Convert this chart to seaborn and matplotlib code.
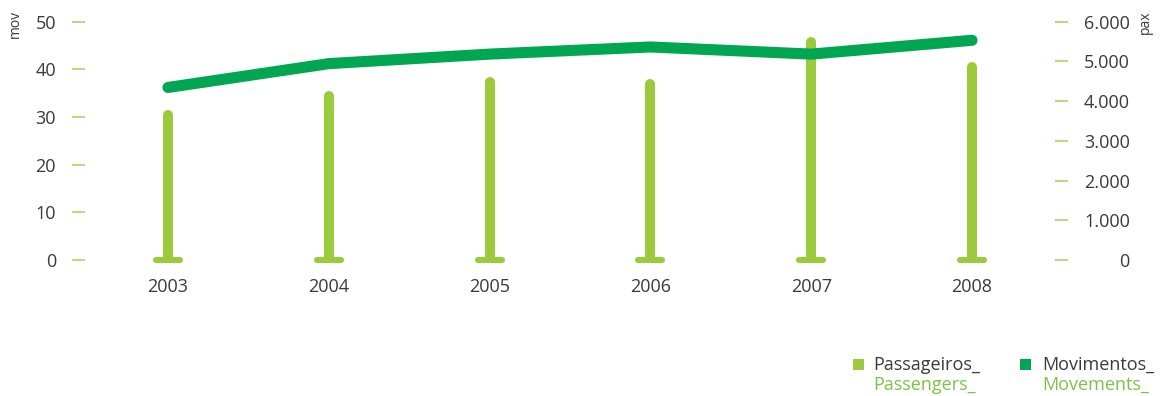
import matplotlib
matplotlib.use("Agg")
import matplotlib.pyplot as plt
from matplotlib.patches import Rectangle
from matplotlib.ticker import FuncFormatter
import pandas as pd
import seaborn as sns

# Annual series
years = [2003, 2004, 2005, 2006, 2007, 2008]
passengers = [3650, 4130, 4470, 4420, 5500, 4850]   # pax (right axis)
movements = [36.2, 41.2, 43.2, 44.7, 43.2, 46.1]    # mov (left axis)

mov_ticks = [0, 10, 20, 30, 40, 50]
pax_ticks = [0, 1000, 2000, 3000, 4000, 5000, 6000]

legend_pt = ["Passageiros_", "Movimentos_"]
legend_en = ["Passengers_", "Movements_"]

BAR_GREEN = "#9bca3c"
LINE_GREEN = "#00a651"
TICK_GREEN = "#a9d46a"
EN_GREEN = "#7cc24a"
TEXT = "#3a3a3a"

df = pd.DataFrame({"year": years, "pax": passengers, "mov": movements})

sns.set_theme(style="white")
plt.rcParams["font.family"] = ["Open Sans", "DejaVu Sans"]

fig = plt.figure(figsize=(11.6, 3.96), dpi=100)
ax = fig.add_axes([85 / 1160, 1 - 260 / 396, (1055 - 85) / 1160, (260 - 21.7) / 396])
ax2 = ax.twinx()

# passenger columns (rounded top, clipped flat at the base) with a small foot
ax2.vlines(df["year"], 0, df["pax"], color=BAR_GREEN, lw=7.2, capstyle="round",
           zorder=2)
ax2.hlines([0] * len(df), df["year"] - 0.075, df["year"] + 0.075,
           color=BAR_GREEN, lw=4.4, capstyle="round", zorder=3, clip_on=False)

# movements line, drawn above the columns
sns.lineplot(data=df, x="year", y="mov", ax=ax, color=LINE_GREEN, lw=8,
             solid_capstyle="round", solid_joinstyle="round", zorder=5)
ax.set_zorder(ax2.get_zorder() + 1)
ax.patch.set_visible(False)

ax.set_xlim(years[0] - 0.516, years[-1] + 0.516)
ax.set_ylim(0, 50)
ax2.set_ylim(0, 6000)

ax.set_xticks(years)
ax.set_xticklabels([str(y) for y in years])
ax.set_yticks(mov_ticks)
ax2.set_yticks(pax_ticks)
ax2.yaxis.set_major_formatter(FuncFormatter(lambda v, p: f"{int(v):,}".replace(",", ".")))

ax.set_xlabel("")
ax.set_ylabel("")

for a in (ax, ax2):
    for s in a.spines.values():
        s.set_visible(False)

ax.tick_params(axis="x", length=0, pad=13, labelsize=13, labelcolor=TEXT)
ax.tick_params(axis="y", direction="out", length=9.4, width=1.2, color=TICK_GREEN,
               pad=11.5, labelsize=13, labelcolor=TEXT, left=True)
ax2.tick_params(axis="y", direction="out", length=9.4, width=1.2, color=TICK_GREEN,
                pad=44.5, labelsize=13, labelcolor=TEXT, right=True)
for lab in ax2.get_yticklabels():
    lab.set_horizontalalignment("right")

# axis unit captions
fig.text(15 / 1160, 1 - 10 / 396, "mov", rotation=90, ha="center", va="top",
         fontsize=10, color=TEXT)
fig.text(1145 / 1160, 1 - 11 / 396, "pax", rotation=90, ha="center", va="top",
         fontsize=10, color=TEXT)

# bilingual legend
entries = [(853, 873, BAR_GREEN), (1020, 1042, LINE_GREEN)]
for (sx, tx, col), pt, en in zip(entries, legend_pt, legend_en):
    fig.patches.append(Rectangle((sx / 1160, 1 - 370 / 396), 11 / 1160, 11 / 396,
                                 transform=fig.transFigure, facecolor=col,
                                 edgecolor="none"))
    fig.text(tx / 1160, 1 - 370 / 396, pt, ha="left", va="baseline",
             fontsize=13, color=TEXT)
    fig.text(tx / 1160, 1 - 390 / 396, en, ha="left", va="baseline",
             fontsize=13, color=EN_GREEN)

fig.savefig("out.png", dpi=100)
